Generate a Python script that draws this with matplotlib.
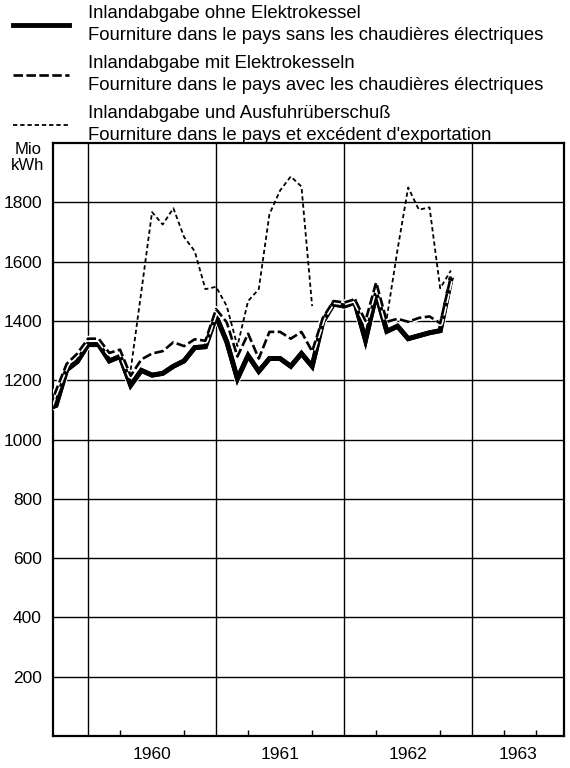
import matplotlib
matplotlib.use("Agg")
import matplotlib.pyplot as plt
import matplotlib.patheffects as pe
from matplotlib.lines import Line2D
import numpy as np
import pandas as pd

plt.rcParams['font.family'] = ['Liberation Sans', 'DejaVu Sans']

# ---- data (Mio kWh, monthly) ----
months = pd.period_range('1959-09', '1962-11', freq='M')
ohne_elektrokessel = [1100, 1115, 1235, 1263, 1320, 1320, 1265, 1280, 1183, 1233,
                      1217, 1223, 1247, 1265, 1310, 1313, 1416, 1330, 1205, 1283,
                      1230, 1273, 1273, 1247, 1290, 1247, 1397, 1457, 1450, 1463,
                      1335, 1490, 1365, 1382, 1340, 1350, 1360, 1367, 1540]
mit_elektrokesseln = [1070, 1165, 1255, 1290, 1340, 1340, 1292, 1303, 1215, 1270,
                      1290, 1298, 1328, 1315, 1338, 1333, 1440, 1395, 1280, 1357,
                      1273, 1363, 1363, 1340, 1363, 1297, 1410, 1467, 1462, 1473,
                      1400, 1530, 1397, 1407, 1397, 1410, 1415, 1392, 1550]
nan = np.nan
mit_ausfuhr = [nan, nan, nan, nan, nan, nan, nan, nan, 1235, 1500,
               1767, 1725, 1780, 1683, 1635, 1507, 1515, 1450, 1315, 1467,
               1507, 1760, 1840, 1887, 1853, 1450, nan, nan, nan, nan,
               nan, nan, 1410, 1640, 1850, 1775, 1783, 1510, 1570]

year_labels = ['1960', '1961', '1962', '1963']
y_ticks = [200, 400, 600, 800, 1000, 1200, 1400, 1600, 1800]

legend_de = ['Inlandabgabe ohne Elektrokessel',
             'Inlandabgabe mit Elektrokesseln',
             'Inlandabgabe und Ausfuhrüberschuß']
legend_fr = ['Fourniture dans le pays sans les chaudières électriques',
             'Fourniture dans le pays avec les chaudières électriques',
             'Fourniture dans le pays et excédent d\'exportation']

# month index: 0 = January 1960
x = np.array([(p.year - 1960) * 12 + (p.month - 1) for p in months])

W, H = 570, 768
fig = plt.figure(figsize=(W / 100, H / 100), dpi=100)
ax = fig.add_axes([53 / W, (H - 736) / H, (564 - 53) / W, (736 - 143) / H])

xmin, xmax = -3.28, 44.6
ax.set_xlim(xmin, xmax)
ax.set_ylim(0, 2000)

# grid
for yv in y_ticks:
    ax.axhline(yv, color='black', lw=1.0, zorder=1)
year_starts = [0, 12, 24, 36]
for xs in year_starts:
    ax.axvline(xs, color='black', lw=1.0, zorder=1)

# series
solid_style = dict(color='black', lw=3.5, solid_joinstyle='miter', zorder=3,
                   path_effects=[pe.withStroke(linewidth=5.0, foreground='white'), pe.Normal()])
dash_style = dict(color='black', lw=1.9, linestyle=(0, (3.6, 1.3)), zorder=4,
                  path_effects=[pe.withStroke(linewidth=4.2, foreground='white')])
dot_style = dict(color='black', lw=1.3, linestyle=(0, (2.4, 1.6)), zorder=5)

ax.plot(x, ohne_elektrokessel, **solid_style)
ax.plot(x, mit_elektrokesseln, **dash_style)
ax.plot(x, mit_ausfuhr, **dot_style)

# axes styling
for s in ax.spines.values():
    s.set_linewidth(1.6)
ax.set_yticks(y_ticks)
ax.set_yticklabels([str(v) for v in y_ticks], fontsize=12.5)
ax.tick_params(axis='y', length=0, pad=8)

centers = [6, 18, 30, (36 + xmax) / 2]
ax.set_xticks(centers)
ax.set_xticklabels(year_labels, fontsize=12.5)
ax.tick_params(axis='x', which='major', length=0, pad=8)
quarters = [q for q in range(3, 45, 3) if q % 12 != 0]
ax.set_xticks(quarters, minor=True)
ax.tick_params(axis='x', which='minor', direction='in', length=4, width=1.0)

# unit label
fig.text(28 / W, 1 - 149 / H, 'Mio', ha='center', va='center', fontsize=12)
fig.text(28 / W, 1 - 165 / H, 'kWh', ha='center', va='center', fontsize=12)

# legend (manual)
handle_styles = [solid_style, dash_style, dot_style]
handle_y = [25, 75, 125]
text_y = [(14, 36), (64, 86), (113, 135)]
for st, hy, (t1, t2), de, fr in zip(handle_styles, handle_y, text_y, legend_de, legend_fr):
    kw = {k: v for k, v in st.items() if k not in ('zorder', 'path_effects')}
    ln = Line2D([13 / W, 69 / W], [1 - hy / H, 1 - hy / H], transform=fig.transFigure, **kw)
    fig.add_artist(ln)
    fig.text(88 / W, 1 - t1 / H, de, ha='left', va='center', fontsize=13.3)
    fig.text(88 / W, 1 - t2 / H, fr, ha='left', va='center', fontsize=13.3)

fig.savefig('out.png', dpi=100, facecolor='white')
